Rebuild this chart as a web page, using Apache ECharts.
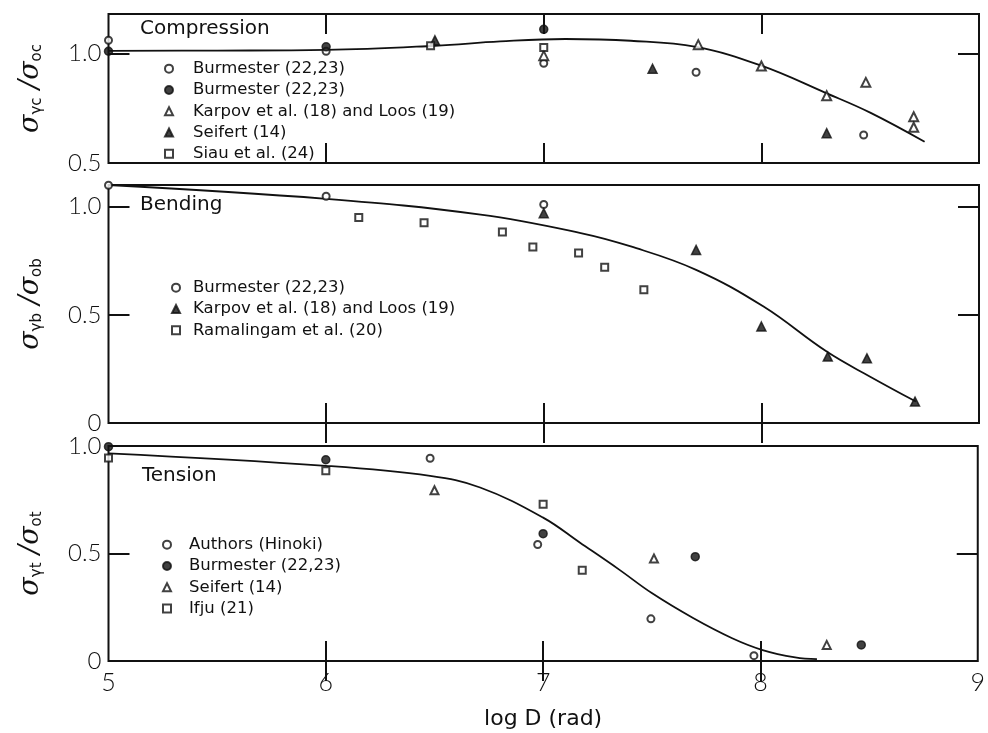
<!DOCTYPE html>
<html>
<head>
<meta charset="utf-8">
<script src="https://cdn.jsdelivr.net/npm/echarts@6/dist/echarts.min.js"></script>
<style>
  html, body { margin: 0; background: #fff; }
  #chart { width: 988px; height: 733px; }
</style>
</head>
<body>
<div id="chart"></div>
<script>
// x ticks / labels (log D)
var xTicks = [6, 7, 8];
var xLabels = [5, 6, 7, 8, 9];

// --- Compression panel ---
var compBurmesterOpen = [[5, 1.06], [6, 1.01], [7, 0.955], [7.7, 0.914], [8.47, 0.628]];
var compBurmesterFilled = [[5, 1.01], [6, 1.03], [7, 1.11]];
var compKarpov = [[7, 0.99], [7.71, 1.04], [8, 0.943], [8.3, 0.807], [8.48, 0.868], [8.7, 0.711], [8.7, 0.663]];
var compSeifert = [[6.5, 1.06], [7.5, 0.93], [8.3, 0.636]];
var compSiau = [[6.48, 1.035], [7, 1.027]];
var compCurve = [[5, 1.012], [5.5, 1.013], [6, 1.016], [6.5, 1.035], [6.8, 1.055], [7.1, 1.066], [7.4, 1.058],
                 [7.7, 1.03], [8, 0.944], [8.3, 0.818], [8.5, 0.73], [8.75, 0.597]];

// --- Bending panel ---
var bendBurmester = [[5, 1.099], [6, 1.048], [7, 1.01]];
var bendKarpov = [[7, 0.97], [7.7, 0.80], [8, 0.446], [8.305, 0.307], [8.485, 0.299], [8.706, 0.099]];
var bendRamalingam = [[6.15, 0.95], [6.45, 0.925], [6.81, 0.883], [6.95, 0.813], [7.16, 0.786], [7.28, 0.72], [7.46, 0.616]];
var bendCurve = [[5, 1.1], [6, 1.036], [6.71, 0.963], [7.17, 0.878], [7.4, 0.816], [7.7, 0.708],
                 [8.01, 0.538], [8.3, 0.33], [8.5, 0.214], [8.71, 0.099]];

// --- Tension panel ---
var tensAuthors = [[6.48, 0.943], [6.975, 0.542], [7.496, 0.196], [7.97, 0.025]];
var tensBurmester = [[5, 0.997], [6, 0.936], [7, 0.592], [7.7, 0.485], [8.464, 0.075]];
var tensSeifert = [[6.5, 0.794], [7.51, 0.477], [8.305, 0.075]];
var tensIfju = [[5, 0.944], [6, 0.885], [7, 0.729], [7.18, 0.422]];
var tensCurve = [[5, 0.966], [6, 0.908], [6.48, 0.861], [6.71, 0.807], [7, 0.667], [7.17, 0.55], [7.35, 0.425],
                 [7.5, 0.316], [7.69, 0.2], [7.87, 0.106], [8.01, 0.051], [8.16, 0.017], [8.26, 0.009]];

var ink = '#111';
var grids = [
    { left: 108.5, right: 9, top: 14, height: 149, min: 0.5, max: 1.18, ticks: [0.5, 1.0] },
    { left: 108.5, right: 9, top: 185, height: 238, min: 0, max: 1.1, ticks: [0, 0.5, 1.0] },
    { left: 108.5, right: 9, top: 446, height: 215, min: 0, max: 1.0, ticks: [0, 0.5, 1.0] }
];
var yNames = [
    '{s|σ}{u|γc}{s| /σ}{u|oc}',
    '{s|σ}{u|γb}{s| /σ}{u|ob}',
    '{s|σ}{u|γt}{s| /σ}{u|ot}'
];

var myChart = echarts.init(document.getElementById('chart'));

var xAxes = [], yAxes = [];
grids.forEach(function (g, i) {
    var last = i === grids.length - 1;
    ['bottom', 'top'].forEach(function (pos) {
        xAxes.push({
            type: 'value', gridIndex: i, position: pos, min: 5, max: 9,
            axisLine: { show: false },
            splitLine: { show: false },
            axisTick: { show: true, inside: true, length: 20, customValues: xTicks,
                        lineStyle: { color: ink, width: 2 } },
            axisLabel: { show: last && pos === 'bottom', customValues: xLabels, margin: 9,
                         fontFamily: 'Lato', fontWeight: 300, fontSize: 25, color: ink },
            name: last && pos === 'bottom' ? 'log D (rad)' : '',
            nameLocation: 'middle', nameGap: 47,
            nameTextStyle: { fontFamily: 'DejaVu Sans', fontSize: 22, color: ink }
        });
    });
    ['left', 'right'].forEach(function (pos) {
        yAxes.push({
            type: 'value', gridIndex: i, position: pos, min: g.min, max: g.max,
            axisLine: { show: false },
            splitLine: { show: false },
            axisTick: { show: true, inside: true, length: 21, customValues: g.ticks.filter(function (t) { return t > g.min; }),
                        lineStyle: { color: ink, width: 2 } },
            axisLabel: { show: pos === 'left', customValues: g.ticks, margin: 7,
                         fontFamily: 'Lato', fontWeight: 300, fontSize: 24, color: ink,
                         formatter: function (v) { return v === 0 ? '0' : v.toFixed(1); } },
            name: pos === 'left' ? yNames[i] : '',
            nameLocation: 'middle', nameRotate: 90, nameGap: 64,
            nameTextStyle: {
                rich: {
                    s: { fontFamily: 'DejaVu Serif', fontStyle: 'italic', fontSize: 27, color: ink },
                    u: { fontFamily: 'DejaVu Sans', fontSize: 15, color: ink, verticalAlign: 'bottom', padding: [7, 0, 0, 0] }
                }
            }
        });
    });
});

function pts(name, data, panel, symbol, size) {
    return {
        type: 'scatter', name: name, data: data,
        xAxisIndex: panel * 2, yAxisIndex: panel * 2,
        symbol: symbol, symbolSize: size || 8,
        itemStyle: { color: ink, borderColor: ink, borderWidth: 1.5 },
        z: 3
    };
}
function curve(name, data, panel) {
    return {
        type: 'line', name: name, data: data,
        xAxisIndex: panel * 2, yAxisIndex: panel * 2,
        smooth: 0.4, showSymbol: false, silent: true,
        lineStyle: { color: ink, width: 1.8 }, z: 2
    };
}

function legend(names, left, top, gap) {
    return {
        orient: 'vertical', left: left, top: top, data: names,
        itemWidth: 8, itemHeight: 8, itemGap: 0, padding: 0,
        selectedMode: false,
        textStyle: { fontFamily: 'DejaVu Sans', fontSize: 16.5, color: ink, lineHeight: 21.3, padding: [0, 0, 0, gap] },
        formatter: function (n) { return n.replace(/#.*$/, ''); }
    };
}

var titleStyle = { fontFamily: 'DejaVu Sans', fontWeight: 'normal', fontSize: 20, color: ink };
var option = {
    backgroundColor: '#fff',
    animation: false,
    grid: grids.map(function (g) {
        return { left: g.left, right: g.right, top: g.top, height: g.height,
                 show: true, borderColor: ink, borderWidth: 2, backgroundColor: 'transparent' };
    }),
    title: [
        { text: 'Compression', left: 140, top: 19, textStyle: titleStyle, padding: 0 },
        { text: 'Bending', left: 140, top: 195, textStyle: titleStyle, padding: 0 },
        { text: 'Tension', left: 142, top: 466, textStyle: titleStyle, padding: 0 }
    ],
    legend: [
        legend(['Burmester (22,23)#c1', 'Burmester (22,23)#c2', 'Karpov et al. (18) and Loos (19)#c', 'Seifert (14)#c', 'Siau et al. (24)#c'], 164, 58, 15),
        legend(['Burmester (22,23)#b', 'Karpov et al. (18) and Loos (19)#b', 'Ramalingam et al. (20)#b'], 171, 277, 8),
        legend(['Authors (Hinoki)#t', 'Burmester (22,23)#t', 'Seifert (14)#t', 'Ifju (21)#t'], 162, 534, 13)
    ],
    xAxis: xAxes,
    yAxis: yAxes,
    series: [
        curve('fit-c', compCurve, 0),
        pts('Burmester (22,23)#c1', compBurmesterOpen, 0, 'emptyCircle', 7),
        pts('Burmester (22,23)#c2', compBurmesterFilled, 0, 'circle', 8),
        pts('Karpov et al. (18) and Loos (19)#c', compKarpov, 0, 'emptyTriangle', 9),
        pts('Seifert (14)#c', compSeifert, 0, 'triangle', 9),
        pts('Siau et al. (24)#c', compSiau, 0, 'emptyRect', 7),

        curve('fit-b', bendCurve, 1),
        pts('Burmester (22,23)#b', bendBurmester, 1, 'emptyCircle', 7),
        pts('Karpov et al. (18) and Loos (19)#b', bendKarpov, 1, 'triangle', 9),
        pts('Ramalingam et al. (20)#b', bendRamalingam, 1, 'emptyRect', 7),

        curve('fit-t', tensCurve, 2),
        pts('Authors (Hinoki)#t', tensAuthors, 2, 'emptyCircle', 7),
        pts('Burmester (22,23)#t', tensBurmester, 2, 'circle', 8),
        pts('Seifert (14)#t', tensSeifert, 2, 'emptyTriangle', 8),
        pts('Ifju (21)#t', tensIfju, 2, 'emptyRect', 7)
    ]
};
myChart.setOption(option);
</script>
</body>
</html>
